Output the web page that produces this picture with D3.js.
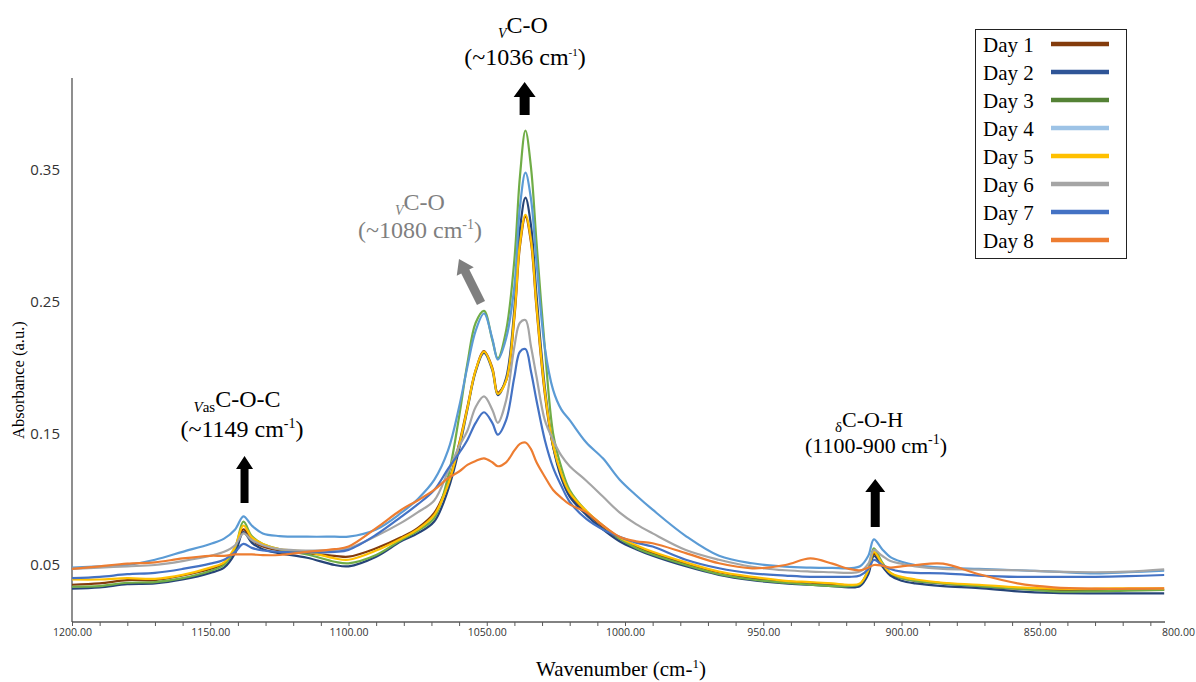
<!DOCTYPE html>
<html><head><meta charset="utf-8">
<script src="https://cdn.jsdelivr.net/npm/d3@7"></script>
<style>body{margin:0;background:#fff;} svg{display:block;}</style>
</head><body>
<svg id="chart" width="1196" height="682"></svg>
<script>
const wavenumbers = [1200,1190,1180,1170,1160,1150,1145,1141,1138,1135,1131,1125,1115,1105,1100,1090,1081,1075,1069,1064,1060,1057,1054,1051,1048,1046,1043,1040,1038,1036,1034,1032,1029,1026,1023,1020,1014,1008,1002,996,990,978,966,954,942,933,925,919,915,912,910,907,904,900,895,885,872,858,845,830,818,805];

const day1 = [0.035,0.036,0.0385,0.0385,0.042,0.047,0.051,0.062,0.077,0.069,0.064,0.061,0.059,0.057,0.0563,0.0627,0.071,0.078,0.0895,0.112,0.142,0.170,0.198,0.2125,0.200,0.181,0.190,0.238,0.292,0.3145,0.295,0.245,0.180,0.140,0.118,0.104,0.090,0.079,0.070,0.064,0.059,0.051,0.0445,0.040,0.0375,0.0365,0.0355,0.0345,0.0355,0.045,0.0584,0.050,0.043,0.040,0.038,0.036,0.034,0.032,0.031,0.031,0.031,0.031];
const day2 = [0.032,0.033,0.0355,0.036,0.039,0.044,0.048,0.059,0.075,0.067,0.062,0.059,0.0555,0.050,0.049,0.0563,0.068,0.074,0.083,0.107,0.138,0.168,0.197,0.211,0.198,0.179,0.192,0.245,0.305,0.329,0.308,0.255,0.185,0.140,0.116,0.102,0.088,0.077,0.068,0.062,0.057,0.049,0.0425,0.0385,0.036,0.035,0.034,0.033,0.034,0.043,0.0568,0.049,0.042,0.038,0.036,0.034,0.0325,0.030,0.0288,0.0285,0.0285,0.0285];
const day3 = [0.0335,0.034,0.0365,0.037,0.040,0.0455,0.050,0.063,0.083,0.072,0.066,0.062,0.058,0.0525,0.0513,0.0576,0.069,0.076,0.0857,0.117,0.1626,0.203,0.234,0.243,0.221,0.207,0.228,0.282,0.345,0.380,0.352,0.295,0.215,0.150,0.124,0.107,0.091,0.080,0.070,0.063,0.058,0.050,0.043,0.039,0.0365,0.035,0.034,0.034,0.0355,0.047,0.0627,0.052,0.044,0.040,0.038,0.036,0.034,0.032,0.030,0.030,0.0305,0.031];
const day4 = [0.048,0.049,0.050,0.054,0.060,0.066,0.070,0.077,0.087,0.080,0.074,0.072,0.0715,0.0715,0.0715,0.077,0.0895,0.100,0.1146,0.137,0.170,0.2006,0.228,0.241,0.222,0.206,0.222,0.262,0.322,0.348,0.328,0.280,0.215,0.183,0.168,0.160,0.143,0.131,0.115,0.103,0.092,0.072,0.057,0.0513,0.0487,0.048,0.0478,0.0475,0.049,0.057,0.0695,0.062,0.056,0.0525,0.050,0.048,0.047,0.046,0.045,0.0437,0.0445,0.0457];
const day5 = [0.039,0.039,0.040,0.0395,0.0425,0.048,0.052,0.064,0.080,0.071,0.066,0.062,0.060,0.055,0.054,0.061,0.070,0.077,0.088,0.111,0.141,0.169,0.198,0.212,0.199,0.180,0.190,0.240,0.294,0.316,0.297,0.247,0.182,0.141,0.119,0.105,0.091,0.080,0.071,0.065,0.060,0.052,0.045,0.041,0.038,0.037,0.036,0.035,0.036,0.046,0.060,0.051,0.044,0.041,0.039,0.0365,0.035,0.033,0.032,0.032,0.0323,0.0323];
const day6 = [0.047,0.048,0.049,0.050,0.053,0.057,0.060,0.065,0.074,0.069,0.065,0.062,0.061,0.0615,0.0627,0.072,0.082,0.090,0.099,0.121,0.140,0.152,0.170,0.178,0.168,0.158,0.175,0.216,0.234,0.236,0.216,0.193,0.160,0.145,0.133,0.125,0.114,0.102,0.090,0.081,0.074,0.0614,0.054,0.0487,0.046,0.045,0.0445,0.044,0.045,0.051,0.0614,0.057,0.053,0.051,0.049,0.047,0.0465,0.046,0.045,0.0445,0.045,0.0467];
const day7 = [0.040,0.041,0.043,0.044,0.047,0.051,0.054,0.060,0.066,0.063,0.061,0.060,0.0595,0.060,0.0615,0.073,0.0865,0.096,0.107,0.123,0.135,0.145,0.158,0.166,0.158,0.149,0.160,0.193,0.212,0.214,0.197,0.175,0.145,0.124,0.110,0.098,0.085,0.077,0.0715,0.067,0.064,0.054,0.0475,0.0437,0.042,0.041,0.041,0.041,0.042,0.047,0.0538,0.050,0.047,0.045,0.044,0.0437,0.042,0.041,0.041,0.041,0.0415,0.0424];
const day8 = [0.047,0.049,0.051,0.052,0.055,0.057,0.057,0.058,0.058,0.058,0.0575,0.0576,0.060,0.062,0.064,0.078,0.0918,0.099,0.107,0.116,0.121,0.126,0.129,0.131,0.128,0.125,0.128,0.137,0.142,0.143,0.138,0.128,0.117,0.107,0.101,0.096,0.090,0.080,0.0715,0.068,0.0665,0.059,0.0513,0.0475,0.050,0.055,0.051,0.047,0.046,0.048,0.050,0.0495,0.048,0.049,0.050,0.051,0.043,0.036,0.033,0.032,0.032,0.0323];

const seriesNames = ["Day 1","Day 2","Day 3","Day 4","Day 5","Day 6","Day 7","Day 8"];
const seriesValues = [day1,day2,day3,day4,day5,day6,day7,day8];
const lineColors = ["#843C0C","#264478","#70AD47","#5B9BD5","#FFC000","#A5A5A5","#4472C4","#ED7D31"];
const legendColors = ["#843C0C","#2F5597","#548235","#9DC3E6","#FFC000","#A5A5A5","#4472C4","#ED7D31"];

const xMinorTicks = d3.range(1200, 805, -10);
const xLabelTicks = [1200,1150,1100,1050,1000,950,900,850,800];
const yTicks = [0.05,0.15,0.25,0.35];

const svg = d3.select("#chart");
const x = d3.scaleLinear().domain([1200,800]).range([72,1178]);
const y = d3.scaleLinear().domain([0.05,0.35]).range([565,170]);

const axisY0 = 622, axisXEnd = 1165, yAxisTop = 78;
const serif = "'Liberation Serif','Times New Roman',serif";
const sans = "'Open Sans','Noto Sans',sans-serif";

// x axis ticks
const gx = svg.append("g").attr("transform",`translate(0,${axisY0})`)
  .call(d3.axisBottom(x).tickValues(xMinorTicks).tickSize(4).tickFormat(""));
gx.select(".domain").remove();
gx.selectAll(".tick line").attr("stroke","#595959");
const gxl = svg.append("g").attr("transform",`translate(0,${axisY0})`)
  .call(d3.axisBottom(x).tickValues(xLabelTicks).tickSize(0).tickPadding(7).tickFormat(d3.format(".2f")));
gxl.select(".domain").remove();
gxl.selectAll("text").attr("font-family",sans).attr("font-size",10.5).attr("fill","#333");
svg.append("line").attr("x1",x(1200)).attr("x2",axisXEnd).attr("y1",axisY0).attr("y2",axisY0)
  .attr("stroke","#595959").attr("stroke-width",1.3);

// y axis
const gy = svg.append("g").attr("transform",`translate(${x(1200)},0)`)
  .call(d3.axisLeft(y).tickValues(yTicks).tickSize(0).tickPadding(12).tickFormat(d3.format(".2f")));
gy.select(".domain").remove();
gy.selectAll("text").attr("font-family",sans).attr("font-size",15).attr("fill","#333");
svg.append("line").attr("x1",x(1200)).attr("x2",x(1200)).attr("y1",yAxisTop).attr("y2",axisY0)
  .attr("stroke","#444").attr("stroke-width",1.2);

// lines
const line = d3.line().x(d=>x(d[0])).y(d=>y(d[1])).curve(d3.curveCatmullRom.alpha(0.5));
seriesValues.forEach((vals,i)=>{
  const pts = wavenumbers.map((w,j)=>[w,vals[j]]);
  svg.append("path").attr("d",line(pts)).attr("fill","none")
    .attr("stroke",lineColors[i]).attr("stroke-width",2.2).attr("stroke-linejoin","round");
});

// arrows
function arrow(x1,y1,x2,y2,shaftW,headW,headL,color){
  const dx=x2-x1, dy=y2-y1, L=Math.hypot(dx,dy), ux=dx/L, uy=dy/L, nx=-uy, ny=ux;
  const nxk=x2-ux*headL, nyk=y2-uy*headL;
  const p=[[x1+nx*shaftW/2,y1+ny*shaftW/2],[nxk+nx*shaftW/2,nyk+ny*shaftW/2],[nxk+nx*headW/2,nyk+ny*headW/2],
    [x2,y2],[nxk-nx*headW/2,nyk-ny*headW/2],[nxk-nx*shaftW/2,nyk-ny*shaftW/2],[x1-nx*shaftW/2,y1-ny*shaftW/2]];
  svg.append("path").attr("d","M"+p.map(q=>q.join(",")).join("L")+"Z").attr("fill",color);
}
arrow(x(1036.3),115,x(1036.3),82,10,22,15,"#000");
arrow(x(1137.6),503,x(1137.6),456,8,17,13,"#000");
arrow(x(909.5),527,x(909.5),479,9,20,13,"#000");
arrow(481,303,459,259,9,19,14,"#7f7f7f");

// annotations
function label(xc, yb, sub, subItalic, main, color, size, subSize){
  const t = svg.append("text").attr("x",xc).attr("y",yb).attr("text-anchor","middle")
    .attr("font-family",serif).attr("font-size",size).attr("fill",color);
  const s = t.append("tspan").attr("font-size",subSize).attr("dy",5);
  if (subItalic) { s.append("tspan").attr("font-style","italic").text(subItalic); }
  if (sub) { s.append("tspan").text(sub); }
  t.append("tspan").attr("dy",-5).text(main);
}
function paren(xc, yb, before, sup, color, size, supSize){
  const t = svg.append("text").attr("x",xc).attr("y",yb).attr("text-anchor","middle")
    .attr("font-family",serif).attr("font-size",size).attr("fill",color);
  t.append("tspan").text(before);
  t.append("tspan").attr("font-size",supSize).attr("dy",-9).text(sup);
  t.append("tspan").attr("dy",9).text(")");
}
label(523,33,null,"V","C-O","#000",24,14);
paren(525,65,"(~1036 cm","-1","#000",24,11);
label(420,210,null,"V","C-O","#7f7f7f",24,14);
paren(420,238,"(~1080 cm","-1","#7f7f7f",24,14);
label(237,407,"as","V","C-O-C","#000",24,15);
paren(242,437,"(~1149 cm","-1","#000",24,14);
label(869,427,"δ",null,"C-O-H","#000",22,15);
paren(876,453,"(1100-900 cm","-1","#000",22,14);

// axis titles
const xt = svg.append("text").attr("x",621).attr("y",676).attr("text-anchor","middle")
  .attr("font-family",serif).attr("font-size",21).attr("fill","#000");
xt.append("tspan").text("Wavenumber (cm-");
xt.append("tspan").attr("font-size",13).attr("dy",-8).text("1");
xt.append("tspan").attr("dy",8).text(")");
svg.append("text").attr("transform","translate(24,380) rotate(-90)").attr("text-anchor","middle")
  .attr("font-family",serif).attr("font-size",16.5).attr("fill","#000").text("Absorbance (a.u.)");

// legend
const lg = svg.append("g");
lg.append("rect").attr("x",975.5).attr("y",29.5).attr("width",151).attr("height",229)
  .attr("fill","#fff").attr("stroke","#222").attr("stroke-width",1);
seriesNames.forEach((n,i)=>{
  lg.append("text").attr("x",983).attr("y",52+28*i).attr("font-family",serif).attr("font-size",21).attr("fill","#000").text(n);
  lg.append("line").attr("x1",1051).attr("x2",1109).attr("y1",44+28*i).attr("y2",44+28*i)
    .attr("stroke",legendColors[i]).attr("stroke-width",4.5);
});
</script>
</body></html>
